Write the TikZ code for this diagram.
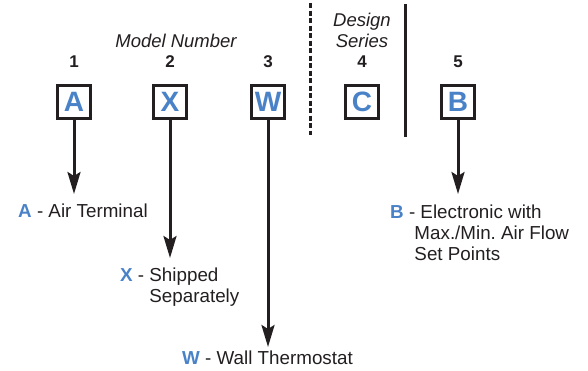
\documentclass[tikz,border=0pt]{standalone}
\usepackage{fontspec}
\setmainfont{Liberation Sans}
\usetikzlibrary{positioning}
\usetikzlibrary{arrows.meta}
\definecolor{codeblue}{RGB}{74,130,200}
\definecolor{ink}{RGB}{35,31,32}
\newcommand{\codeltr}[1]{\textcolor{codeblue}{\bfseries #1}}
\frenchspacing

\begin{document}
\begin{tikzpicture}[x=1pt,y=-1pt,color=ink,main/.style={draw,line width=3pt,minimum size=33pt,inner sep=0pt,text=codeblue,font=\fontsize{28}{28}\selectfont\bfseries}, num/.style={inner sep=0pt,font=\fontsize{17}{17}\selectfont\bfseries}, head/.style={inner sep=0pt,font=\fontsize{18.5}{21}\selectfont\itshape,align=center}, lbl/.style={anchor=base west,inner sep=0pt,font=\fontsize{18.8}{21}\selectfont}, ar/.style={line width=3pt,-{Stealth[length=22pt,width=13pt,inset=4pt]}}]
      \useasboundingbox (0,0) rectangle (588,370);

      % code boxes
      \node[main] (1) at (74,102) {A};
      \node[main] (2) at (170,102) {X};
      \node[main] (3) at (268,102) {W};
      \node[main] (4) at (362,102) {C};
      \node[main] (5) at (458,102) {B};

      % position numbers
      \node[num] (n1) [above=16pt of 1] {1};
      \node[num] (n2) [above=16pt of 2] {2};
      \node[num] (n3) [above=16pt of 3] {3};
      \node[num] (n4) [above=16pt of 4] {4};
      \node[num] (n5) [above=16pt of 5] {5};

      \node[head] (model) at (176,41) {Model Number};
      \node[head] (series) at (362,30) {Design\\Series};

      % separators
      \draw[line width=3pt,dash pattern=on 5pt off 2.5pt] (310,3) -- (310,135);
      \draw[line width=3pt] (405,4) -- (405,137);

      % meanings
      \node[lbl] (la) at (18,217.5) {\codeltr{A} - Air Terminal};
      \node[lbl] (lx) at (120,281.5) {\codeltr{X} - \begin{tabular}[t]{@{}l@{}}Shipped\\Separately\end{tabular}};
      \node[lbl] (lw) at (182,364.5) {\codeltr{W} - Wall Thermostat};
      \node[lbl] (lb) at (390,218.5) {\codeltr{B} - \begin{tabular}[t]{@{}l@{}}Electronic with\\\hspace*{-6pt}Max./Min. Air Flow\\\hspace*{-6pt}Set Points\end{tabular}};

      \coordinate (t1) at (1 |- 0,194);
      \coordinate (t2) at (2 |- 0,258);
      \coordinate (t3) at (3 |- 0,347);
      \coordinate (t5) at (5 |- 0,194);

      \draw[ar] (1) -- (t1);
      \draw[ar] (2) -- (t2);
      \draw[ar] (3) -- (t3);
      \draw[ar] (5) -- (t5);
    \end{tikzpicture}
\end{document}
